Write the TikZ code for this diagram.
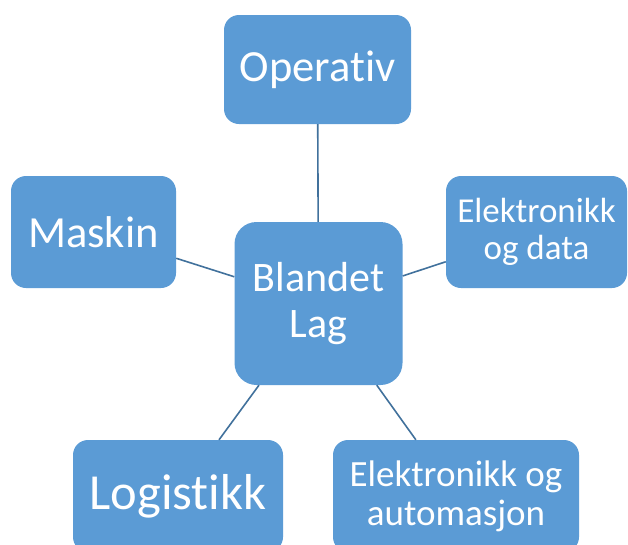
\documentclass[tikz,border=0pt]{standalone}
\usepackage{fontspec}
\setmainfont{Carlito}[Ligatures=NoCommon]
\usetikzlibrary{positioning}
\definecolor{boxblue}{HTML}{5B9BD5}
\definecolor{lineblue}{HTML}{41719C}
\begin{document}
\begin{tikzpicture}[x=1pt,y=-1pt,
	boks/.style={fill=boxblue,rounded corners=15pt,text=white,align=center,inner sep=0pt},
	linje/.style={draw=lineblue,line width=1.6pt}]

\useasboundingbox (0,0) rectangle (628,544);

%center
\node[boks,minimum width=168pt,minimum height=163pt,rounded corners=22pt,
font=\fontsize{42}{46}\selectfont] (lag) at (318.5,303.5) {Blandet\\Lag};

%outer boxes
\node[boks,minimum width=187pt,minimum height=109pt,
font=\fontsize{44.5}{50}\selectfont] (operativ) at (317.5,69.5) {Operativ};
\node[boks,minimum width=165pt,minimum height=112pt,
font=\fontsize{44.5}{50}\selectfont] (maskin) at (93.5,232) {Maskin};
\node[boks,minimum width=181pt,minimum height=112pt,
font=\fontsize{35}{37}\selectfont] (eldata) at (536.5,232) {Elektronikk\\og data};
\node[boks,minimum width=210pt,minimum height=112pt,
font=\fontsize{50.5}{55}\selectfont] (logistikk) at (178,496) {Logistikk};
\node[boks,minimum width=246pt,minimum height=112pt,
font=\fontsize{37}{39}\selectfont] (elauto) at (456,496) {Elektronikk og\\automasjon};

%connectors
\draw[linje] (operativ) -- (lag);
\draw[linje] (maskin) -- (lag);
\draw[linje] (eldata) -- (lag);
\draw[linje] (logistikk) -- (lag);
\draw[linje] (elauto) -- (lag);

\end{tikzpicture}
\end{document}
